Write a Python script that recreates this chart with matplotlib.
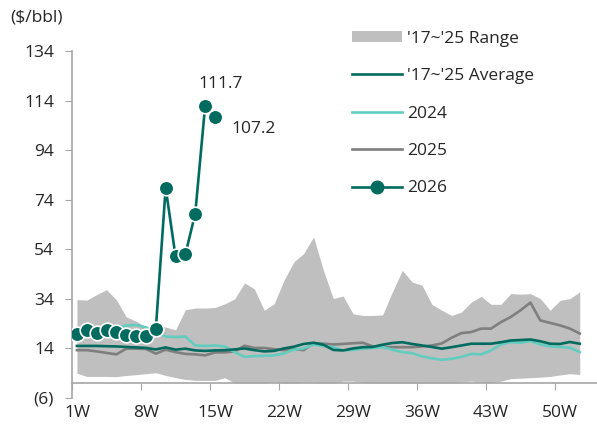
import matplotlib
matplotlib.use("Agg")
import matplotlib.pyplot as plt
import matplotlib.patches as mpatches
from matplotlib.lines import Line2D
import numpy as np

plt.rcParams['font.family'] = ['Open Sans', 'DejaVu Sans']

# weekly values ($/bbl), weeks 1..52
weeks = np.arange(1, 53)
range_hi = [33.7, 33.5, 35.7, 37.7, 33.6, 26.7, 25.0, 22.6, 23.7, 22.6,
            21.5, 29.6, 30.3, 30.3, 30.5, 32.0, 34.0, 40.4, 38.0, 29.4,
            32.0, 41.5, 48.9, 52.3, 59.0, 45.5, 34.1, 35.1, 28.0, 27.3,
            27.3, 27.5, 36.8, 45.5, 40.8, 39.5, 31.8, 29.4, 27.3, 28.7,
            32.7, 35.0, 31.8, 31.8, 36.1, 35.9, 36.1, 34.1, 29.4, 33.4,
            34.1, 36.8]
range_lo = [4.0, 2.7, 2.7, 2.7, 2.6, 3.1, 3.4, 3.8, 4.2, 3.1,
            2.2, 1.5, 1.1, 1.1, 1.1, 2.2, 0.0, 0.0, 0.0, 0.0,
            0.5, 0.0, 0.0, 0.3, 0.5, 0.0, 0.0, 0.8, 0.8, 0.3,
            0.0, 0.0, 0.0, 0.0, 0.0, 0.0, 0.0, 0.0, 0.0, 0.5,
            0.8, 0.3, 0.2, 0.8, 1.8, 2.0, 2.2, 2.4, 2.7, 3.3,
            3.8, 3.5]
avg = [15.0, 15.0, 15.0, 14.9, 14.8, 14.6, 14.4, 14.2, 13.6, 14.4,
       13.5, 13.9, 13.2, 13.0, 13.2, 13.3, 13.6, 14.0, 13.3, 12.8,
       13.0, 14.0, 14.7, 15.8, 16.3, 15.5, 13.4, 13.2, 14.0, 14.5,
       14.6, 15.5, 16.2, 16.5, 15.8, 15.2, 14.6, 13.9, 14.5, 15.2,
       15.9, 15.9, 15.9, 16.5, 17.2, 17.4, 17.6, 16.9, 15.9, 15.8,
       16.6, 15.9]
y2024 = [21.5, 21.8, 21.5, 22.0, 22.5, 23.2, 23.5, 22.5, 20.5, 18.8,
         18.6, 18.8, 15.2, 15.0, 15.2, 14.8, 12.5, 10.6, 10.9, 11.0,
         11.2, 12.0, 13.5, 14.0, 15.5, 15.0, 14.5, 13.2, 13.4, 13.9,
         14.2, 14.5, 13.5, 12.5, 12.1, 10.8, 10.0, 9.4, 9.8, 10.6,
         11.8, 11.6, 13.2, 15.6, 16.5, 16.3, 17.0, 15.6, 14.8, 14.6,
         14.3, 12.5]
y2025 = [13.3, 13.3, 12.8, 12.2, 11.6, 13.9, 13.9, 13.8, 11.9, 13.5,
         12.5, 11.8, 11.6, 11.2, 12.4, 12.4, 12.8, 15.1, 14.2, 14.2,
         13.7, 13.3, 13.8, 13.3, 16.1, 15.9, 15.6, 15.8, 16.1, 16.3,
         14.8, 14.7, 14.5, 14.5, 14.5, 14.8, 15.2, 16.0, 18.3, 20.2,
         20.6, 22.0, 22.0, 24.6, 26.7, 29.4, 32.5, 25.3, 24.3, 23.3,
         22.0, 20.0]
y2026 = [20.0, 21.3, 20.3, 21.3, 20.6, 19.5, 19.2, 19.2, 21.7, 78.8,
         51.2, 52.0, 68.4, 111.7, 107.2]

c_band = '#BFBFBF'
c_avg = '#006B5E'
c_24 = '#62CDBE'
c_25 = '#7F7F7F'
c_axis = '#A6A6A6'
c_text = '#262626'

fig = plt.figure(figsize=(5.97, 4.28), dpi=100)
ax = fig.add_axes([72/597, 30/428, 525/597, 347/428])

ax.fill_between(weeks, range_lo, range_hi, color=c_band, lw=0, zorder=1)
ax.plot(weeks, y2025, color=c_25, lw=1.9, zorder=2)
ax.plot(weeks, y2024, color=c_24, lw=1.9, zorder=3)
ax.plot(weeks, avg, color=c_avg, lw=1.9, zorder=4)
w26 = weeks[:len(y2026)]
ax.plot(w26, y2026, color=c_avg, lw=1.9, marker='o', ms=10.5,
        mfc=c_avg, mec='white', mew=1.2, zorder=5)

ax.annotate('111.7', (w26[13], y2026[13]), xytext=(11, 16), textcoords='offset points',
            ha='center', va='center', fontsize=12.5, color=c_text)
ax.annotate('107.2', (w26[14], y2026[14]), xytext=(12, -8), textcoords='offset points',
            ha='left', va='center', fontsize=12.5, color=c_text)

ax.set_xlim(0.5, 53.75)
ax.set_ylim(-6, 134)

yt = np.arange(-6, 135, 20)
ax.set_yticks(yt)
ax.set_yticklabels(['(6)' if v < 0 else str(v) for v in yt])

ax.set_xticks(np.arange(0.5, 51, 7))
ax.set_xticklabels([])
ax.set_xticks(np.arange(1, 51, 7), minor=True)
ax.set_xticklabels([f'{w}W' for w in range(1, 51, 7)], minor=True)

for s in ['top', 'right']:
    ax.spines[s].set_visible(False)
ax.spines['bottom'].set_position(('data', 0))
ax.spines['bottom'].set_color(c_axis)
ax.spines['left'].set_color(c_axis)
ax.spines['bottom'].set_linewidth(1.2)
ax.spines['left'].set_linewidth(1.2)

ax.tick_params(axis='y', length=5, color=c_axis, labelsize=12.5, labelcolor=c_text, pad=8)
ax.tick_params(axis='x', which='major', length=5, color=c_axis)
ax.tick_params(axis='x', which='minor', length=0, labelsize=12.5, labelcolor=c_text, pad=16)

fig.text(10/597, 1 - 17/428, '($/bbl)', fontsize=12.5, color=c_text, ha='left', va='center')

handles = [mpatches.Patch(color=c_band, lw=0),
           Line2D([], [], color=c_avg, lw=1.9),
           Line2D([], [], color=c_24, lw=1.9),
           Line2D([], [], color=c_25, lw=1.9),
           Line2D([], [], color=c_avg, lw=1.9, marker='o', ms=9, mfc=c_avg, mec=c_avg)]
labels = ["'17~'25 Range", "'17~'25 Average", '2024', '2025', '2026']
leg = fig.legend(handles, labels, loc='upper left', bbox_to_anchor=(345/597, 1 - 24/428),
                 frameon=False, fontsize=12.5, handlelength=2.9, handleheight=0.6,
                 handletextpad=0.3, labelspacing=1.23, borderaxespad=0)
for t in leg.get_texts():
    t.set_color(c_text)

fig.savefig('out.png', dpi=100)
